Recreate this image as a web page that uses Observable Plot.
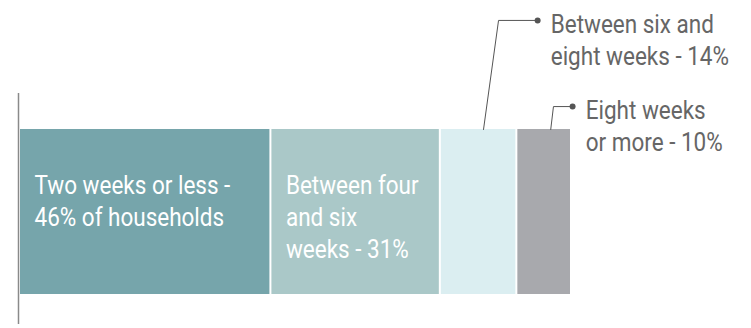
<!DOCTYPE html>
<html>
<head>
<meta charset="utf-8">
<script src="https://cdn.jsdelivr.net/npm/d3@7"></script>
<script src="https://cdn.jsdelivr.net/npm/@observablehq/plot@0.6"></script>
<style>
  html, body { margin: 0; padding: 0; background: #fff; }
  #chart svg { display: block; }
</style>
</head>
<body>
<div id="chart"></div>
<script>
// ---- Data ----
const categories = ["Two weeks or less", "Between four and six weeks", "Between six and eight weeks", "Eight weeks or more"];
const shares = [46, 31, 14, 10];
const labels = ["Two weeks or less -\n46% of households", "Between four\nand six\nweeks - 31%", "Between six and\neight weeks - 14%", "Eight weeks\nor more - 10%"];
const labelInside = [true, true, false, false];

// ---- Styles / annotation layout (not data) ----
const colors = ["#76a5ab", "#aac8c8", "#dbeef1", "#a8a9ad"];
const FONT = "Roboto, 'Liberation Sans', sans-serif";
const CONDENSE = 0.9;
// leader lines for outside labels: [bottom x, elbow x, dot x, elbow y, label x] in chart units
const leaderLayout = [
  null,
  null,
  {xb: 84.9, xe: 87.65, xd: 94.8, ye: 1.661, xl: 97.2},
  {xb: 97.2, xe: 97.7, xd: 101.2, ye: 1.139, xl: 103.6}
];

// ---- Build table ----
let acc = 0;
const rows = categories.map((c, i) => {
  const r = {category: c, share: shares[i], x1: acc, x2: acc + shares[i], label: labels[i], inside: labelInside[i], color: colors[i], lead: leaderLayout[i]};
  acc += shares[i];
  return r;
});
const outside = rows.filter(d => !d.inside);
const leaderPts = outside.flatMap(d => [
  {id: d.category, x: d.lead.xb, y: 1},
  {id: d.category, x: d.lead.xe, y: d.lead.ye},
  {id: d.category, x: d.lead.xd, y: d.lead.ye}
]);

const chart = Plot.plot({
  width: 751,
  height: 328,
  marginLeft: 19,
  marginRight: 180,
  marginTop: 93,
  marginBottom: 4,
  style: {fontFamily: FONT, background: "#fff"},
  x: {domain: [0, d3.sum(shares)], axis: null},
  y: {domain: [0, 1], range: [294, 129], axis: null},
  marks: [
    Plot.rectX(rows, {x1: "x1", x2: "x2", y1: 0, y2: 1, fill: "color", insetLeft: 1, insetRight: 1}),
    Plot.ruleX([0], {stroke: "#8a8a8a", strokeWidth: 1.5, dx: -1}),
    Plot.text(rows.filter(d => d.inside), {
      x: "x1", y: 1, text: "label", textAnchor: "start", lineAnchor: "top",
      dx: 15, dy: 42, fill: "#fff", fontSize: 25, lineHeight: 1.28
    }),
    Plot.line(leaderPts, {x: "x", y: "y", z: "id", stroke: "#555", strokeWidth: 1}),
    Plot.dot(outside, {x: d => d.lead.xd, y: d => d.lead.ye, r: 3, fill: "#555", stroke: null}),
    Plot.text(outside, {
      x: d => d.lead.xl, y: d => d.lead.ye, text: "label", textAnchor: "start", lineAnchor: "top",
      dy: -11, fill: "#666", fontSize: 25, lineHeight: 1.3
    })
  ]
});
// condense the text horizontally around each label's anchor point
d3.select(chart).selectAll("text").each(function() {
  const t = this.getAttribute("transform") || "";
  this.setAttribute("transform", `${t} scale(${CONDENSE},1)`);
});
document.getElementById("chart").appendChild(chart);
</script>
</body>
</html>
